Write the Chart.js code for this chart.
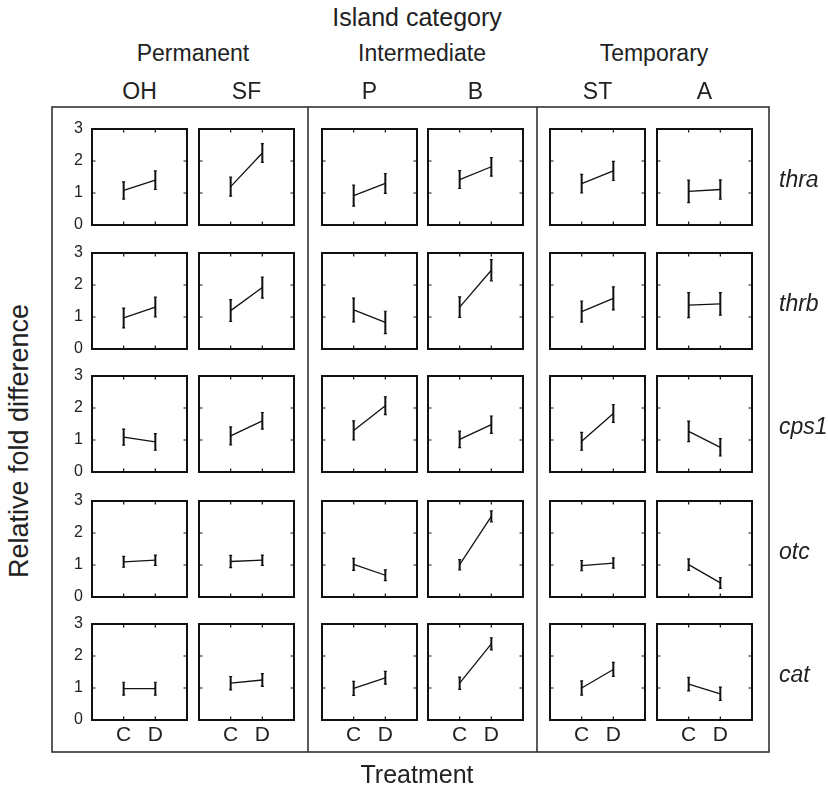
<!DOCTYPE html>
<html>
<head>
<meta charset="utf-8">
<script src="https://cdn.jsdelivr.net/npm/chart.js@4.4.1/dist/chart.umd.min.js"></script>
<style>
  html, body { margin: 0; padding: 0; background: #fff; }
  #fig { position: relative; width: 828px; height: 790px; overflow: hidden; background: #fff;
         font-family: "Liberation Sans", Arial, Helvetica, sans-serif; color: #222; }
  #fig canvas { position: absolute; }
  .lbl { position: absolute; white-space: nowrap; line-height: 1; transform: translate(-50%, -50%); }
  .gene { position: absolute; white-space: nowrap; line-height: 1; font-style: italic; transform: translateY(-50%); }
  svg { position: absolute; left: 0; top: 0; }
</style>
</head>
<body>
<div id="fig">
  <svg width="828" height="790">
    <rect x="52" y="107" width="717" height="645" fill="none" stroke="#333" stroke-width="1.6"/>
    <line x1="308" y1="107" x2="308" y2="752" stroke="#333" stroke-width="1.6"/>
    <line x1="537" y1="107" x2="537" y2="752" stroke="#333" stroke-width="1.6"/>
  </svg>
</div>
<script>
// Island categories, islands, genes and treatments
const categories = ['Permanent', 'Intermediate', 'Temporary'];
const islands = ['OH', 'SF', 'P', 'B', 'ST', 'A'];
const genes = ['thra', 'thrb', 'cps1', 'otc', 'cat'];
const treatments = ['C', 'D'];
const yTicks = [0, 1, 2, 3];

// Mean relative fold difference, one row per gene, one column per island
const meanC = [
  [1.08, 1.20, 0.92, 1.42, 1.29, 1.05],
  [0.97, 1.20, 1.22, 1.31, 1.17, 1.37],
  [1.09, 1.13, 1.30, 1.02, 0.96, 1.27],
  [1.10, 1.11, 1.02, 1.01, 0.98, 1.01],
  [0.98, 1.15, 0.99, 1.15, 1.00, 1.12]
];
const meanD = [
  [1.40, 2.25, 1.30, 1.82, 1.69, 1.11],
  [1.31, 1.92, 0.83, 2.46, 1.58, 1.41],
  [0.94, 1.60, 2.07, 1.48, 1.83, 0.77],
  [1.15, 1.15, 0.68, 2.52, 1.06, 0.44],
  [0.98, 1.25, 1.32, 2.38, 1.58, 0.82]
];
// Error bar half-widths
const errC = [
  [0.27, 0.30, 0.33, 0.28, 0.29, 0.35],
  [0.31, 0.34, 0.37, 0.32, 0.33, 0.39],
  [0.25, 0.28, 0.30, 0.26, 0.28, 0.32],
  [0.17, 0.19, 0.19, 0.16, 0.16, 0.18],
  [0.20, 0.21, 0.22, 0.19, 0.22, 0.21]
];
const errD = [
  [0.29, 0.29, 0.31, 0.29, 0.30, 0.30],
  [0.31, 0.33, 0.35, 0.33, 0.36, 0.35],
  [0.26, 0.26, 0.28, 0.27, 0.28, 0.27],
  [0.16, 0.16, 0.17, 0.17, 0.16, 0.17],
  [0.20, 0.20, 0.20, 0.19, 0.22, 0.21]
];

// Panel layout (plot-area boxes)
const colLeft = [92, 199, 322, 428, 550, 657];
const rowTop = [129, 253, 376, 501, 624];
const panelW = 95, panelH = 96;
const padTop = 14, padRight = 12, yAxisW = 36, xAxisH = 34;
const FONT = '"Liberation Sans", Arial, Helvetica, sans-serif';

const fig = document.getElementById('fig');

function addLabel(text, x, y, size, cls, extra) {
  const d = document.createElement('div');
  d.className = cls || 'lbl';
  d.textContent = text;
  d.style.left = x + 'px';
  d.style.top = y + 'px';
  d.style.fontSize = size + 'px';
  if (extra) Object.assign(d.style, extra);
  fig.appendChild(d);
  return d;
}

// Axis boxes keep a fixed size so every plot area lines up
function fixedSize(prop, size) {
  return s => {
    s[prop] = size;
    s.paddingTop = 0; s.paddingBottom = 0; s.paddingLeft = 0; s.paddingRight = 0;
  };
}

// Frame, inward tick marks and error bars for each small panel
const panelPlugin = {
  id: 'panelDecor',
  afterDatasetsDraw(chart, args, opts) {
    const { ctx, chartArea: a, scales: { x, y } } = chart;
    ctx.save();
    ctx.strokeStyle = '#111';
    // inward ticks
    ctx.lineWidth = 1.2;
    ctx.beginPath();
    treatments.forEach((t, i) => {
      const px = x.getPixelForValue(i + 1);
      ctx.moveTo(px, a.bottom); ctx.lineTo(px, a.bottom - 3.5);
      ctx.moveTo(px, a.top); ctx.lineTo(px, a.top + 3.5);
    });
    yTicks.slice(1, -1).forEach(v => {
      const py = y.getPixelForValue(v);
      ctx.moveTo(a.left, py); ctx.lineTo(a.left + 3.5, py);
      ctx.moveTo(a.right, py); ctx.lineTo(a.right - 3.5, py);
    });
    ctx.stroke();
    // error bars
    ctx.lineWidth = 2;
    ctx.beginPath();
    opts.bars.forEach((b, i) => {
      const px = x.getPixelForValue(i + 1);
      const top = y.getPixelForValue(b.m + b.e);
      const bot = y.getPixelForValue(b.m - b.e);
      ctx.moveTo(px, top); ctx.lineTo(px, bot);
    });
    ctx.stroke();
    ctx.lineWidth = 1.2;
    ctx.beginPath();
    opts.bars.forEach((b, i) => {
      const px = x.getPixelForValue(i + 1);
      const top = y.getPixelForValue(b.m + b.e);
      const bot = y.getPixelForValue(b.m - b.e);
      ctx.moveTo(px - 1.5, top); ctx.lineTo(px + 1.5, top);
      ctx.moveTo(px - 1.5, bot); ctx.lineTo(px + 1.5, bot);
    });
    ctx.stroke();
    // panel box
    ctx.lineWidth = 2;
    ctx.strokeRect(a.left, a.top, a.right - a.left, a.bottom - a.top);
    ctx.restore();
  }
};

genes.forEach((gene, r) => {
  islands.forEach((isl, c) => {
    const cv = document.createElement('canvas');
    cv.width = yAxisW + panelW + padRight;
    cv.height = padTop + panelH + xAxisH;
    cv.style.left = (colLeft[c] - yAxisW) + 'px';
    cv.style.top = (rowTop[r] - padTop) + 'px';
    fig.appendChild(cv);
    const isLeft = c === 0;
    const isBottom = r === genes.length - 1;
    new Chart(cv, {
      type: 'line',
      data: {
        datasets: [{
          data: [{ x: 1, y: meanC[r][c] }, { x: 2, y: meanD[r][c] }],
          borderColor: '#111',
          borderWidth: 1.3,
          pointRadius: 0,
          tension: 0,
          fill: false
        }]
      },
      options: {
        responsive: false,
        animation: false,
        events: [],
        layout: { padding: { top: padTop, right: padRight, left: 0, bottom: 0 }, autoPadding: false },
        plugins: {
          legend: { display: false },
          tooltip: { enabled: false },
          panelDecor: {
            bars: [{ m: meanC[r][c], e: errC[r][c] }, { m: meanD[r][c], e: errD[r][c] }]
          }
        },
        scales: {
          x: {
            type: 'linear', min: 0, max: 3,
            grid: { display: false, drawTicks: false },
            border: { display: false },
            afterBuildTicks: s => { s.ticks = treatments.map((t, i) => ({ value: i + 1 })); },
            ticks: {
              display: isBottom, autoSkip: false, maxRotation: 0, padding: 3,
              color: '#222', font: { family: FONT, size: 21 },
              callback: v => treatments[v - 1]
            },
            afterFit: fixedSize('height', xAxisH)
          },
          y: {
            type: 'linear', min: 0, max: 3,
            grid: { display: false, drawTicks: false },
            border: { display: false },
            afterBuildTicks: s => { s.ticks = yTicks.map(v => ({ value: v })); },
            ticks: {
              display: isLeft, padding: 9,
              color: '#222', font: { family: FONT, size: 16 }
            },
            afterFit: fixedSize('width', yAxisW)
          }
        }
      },
      plugins: [panelPlugin]
    });
  });
  addLabel(gene, 779, rowTop[r] + panelH / 2 + 2, 23, 'gene');
});

// Titles and headers
addLabel('Island category', 417, 17, 25);
const catCenters = [193, 422, 654];
categories.forEach((t, i) => addLabel(t, catCenters[i], 53, 23));
islands.forEach((t, i) => addLabel(t, colLeft[i] + panelW / 2, 91, 23));
addLabel('Treatment', 417, 774, 25);
addLabel('Relative fold difference', 19, 441, 27, 'lbl', { transform: 'translate(-50%, -50%) rotate(-90deg)' });
</script>
</body>
</html>
